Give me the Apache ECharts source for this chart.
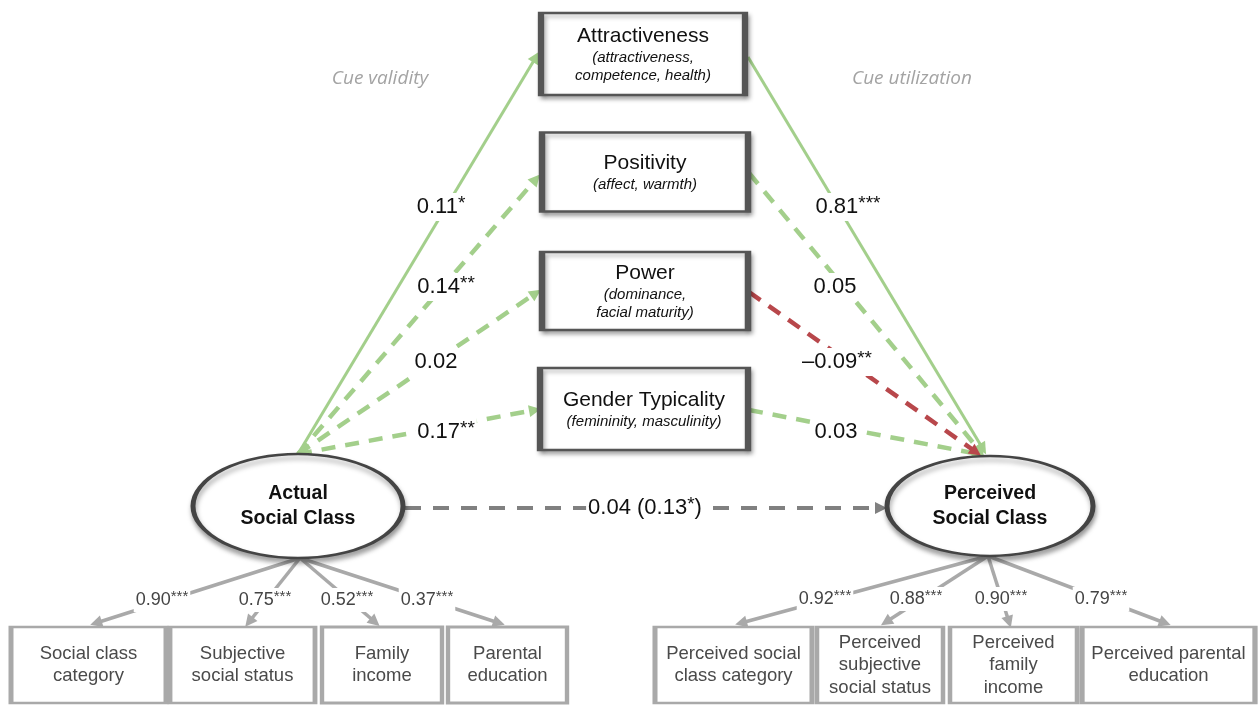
<!DOCTYPE html>
<html>
<head>
<meta charset="utf-8">
<script src="https://cdn.jsdelivr.net/npm/echarts@6/dist/echarts.min.js"></script>
<style>html,body{margin:0;padding:0;background:#fff}#c{width:1258px;height:707px}</style>
</head>
<body>
<div id="c"></div>
<script>
// ---------------- DATA ----------------
const constructNames = ['Attractiveness', 'Positivity', 'Power', 'Gender Typicality'];
const constructFacets = [['(attractiveness,', 'competence, health)'], ['(affect, warmth)'], ['(dominance,', 'facial maturity)'], ['(femininity, masculinity)']];
const latentNames = [['Actual', 'Social Class'], ['Perceived', 'Social Class']];
const actualIndicators = [['Social class', 'category'], ['Subjective', 'social status'], ['Family', 'income'], ['Parental', 'education']];
const perceivedIndicators = [['Perceived social', 'class category'], ['Perceived', 'subjective', 'social status'], ['Perceived', 'family', 'income'], ['Perceived parental', 'education']];
const cueValidity = [0.11, 0.14, 0.02, 0.17];
const cueValiditySig = ['*', '**', '', '**'];
const cueUtilization = [0.81, 0.05, -0.09, 0.03];
const cueUtilizationSig = ['***', '', '**', ''];
const directEffect = 0.04;
const totalEffect = 0.13;
const totalEffectSig = '*';
const actualLoadings = [0.90, 0.75, 0.52, 0.37];
const actualLoadingSig = ['***', '***', '***', '***'];
const perceivedLoadings = [0.92, 0.88, 0.90, 0.79];
const perceivedLoadingSig = ['***', '***', '***', '***'];
const sectionTitles = ['Cue validity', 'Cue utilization'];

// ---------------- LAYOUT (diagram space = pixel-like units) ----------------
const constructBox = [[643, 54, 204, 82], [645, 172, 206, 79], [645, 291, 206, 78], [644, 409, 208, 82]];
const latentBox = [[298, 506, 210, 104], [990, 506, 206, 100]];
const indicatorY = [627, 703];
const actualBoxX = [[11, 166], [170, 315], [322, 442], [448, 567]];
const perceivedBoxX = [[655, 812], [817, 943], [950, 1077], [1082, 1255]];
const validityStart = [298, 454];
const validityEnd = [[536, 57], [536, 179], [536, 293], [535, 410]];
const validityLabel = [[441, 207], [446, 287], [436, 362], [446, 432]];
const utilStart = [[748, 57], [749, 173], [749, 292], [749, 410]];
const utilEnd = [[983, 449], [980, 451], [976, 452], [978, 454]];
const utilLabel = [[848, 207], [835, 287], [837, 362], [836, 432]];
const pathKind = ['solid', 'dash', 'dash', 'dash'];
const directStart = [405, 508], directEnd = [881, 508], directLabel = [645, 508];
const actualArrowStart = [300, 558];
const actualArrowEnd = [[96, 623], [249, 622], [375, 622], [499, 623]];
const actualLabelPos = [[162, 600], [265, 600], [347, 600], [427, 600]];
const perceivedArrowStart = [988, 556];
const perceivedArrowEnd = [[741, 623], [886, 622], [1009, 622], [1165, 623]];
const perceivedLabelPos = [[825, 599], [916, 599], [1001, 599], [1101, 599]];
const sectionTitlePos = [[380, 79], [912, 79]];

// ---------------- BUILD ----------------
const FONT = 'Liberation Sans, Arial, Helvetica, sans-serif';
const GREEN = '#a3cf8b', RED = '#b8474b', DGRAY = '#808080', LGRAY = '#a9a9a9';
const fmt = v => (v < 0 ? '\u2013' : '') + Math.abs(v).toFixed(2);

const greenSolid = [], greenDash = [], redDash = [];
function pushPath(from, to, val, idx) {
  const item = { coords: [from, to] };
  if (val < 0) redDash.push(item);
  else if (pathKind[idx] === 'solid') greenSolid.push(item);
  else greenDash.push(item);
}
cueValidity.forEach((v, i) => pushPath(validityStart, validityEnd[i], v, i));
cueUtilization.forEach((v, i) => pushPath(utilStart[i], utilEnd[i], v, i));

const indicatorArrows = [];
actualLoadings.forEach((v, i) => indicatorArrows.push({ coords: [actualArrowStart, actualArrowEnd[i]] }));
perceivedLoadings.forEach((v, i) => indicatorArrows.push({ coords: [perceivedArrowStart, perceivedArrowEnd[i]] }));

const coefLabels = [];
cueValidity.forEach((v, i) => coefLabels.push({ value: validityLabel[i], name: '{v|' + fmt(v) + '}' + (cueValiditySig[i] ? '{s|' + cueValiditySig[i] + '}' : '') }));
cueUtilization.forEach((v, i) => coefLabels.push({ value: utilLabel[i], name: '{v|' + fmt(v) + '}' + (cueUtilizationSig[i] ? '{s|' + cueUtilizationSig[i] + '}' : '') }));
coefLabels.push({ value: directLabel, name: '{v|' + fmt(directEffect) + ' (' + fmt(totalEffect) + '}{s|' + totalEffectSig + '}{v|)}' });

const loadLabels = [];
actualLoadings.forEach((v, i) => loadLabels.push({ value: actualLabelPos[i], name: '{v|' + fmt(v) + '}{s|' + actualLoadingSig[i] + '}' }));
perceivedLoadings.forEach((v, i) => loadLabels.push({ value: perceivedLabelPos[i], name: '{v|' + fmt(v) + '}{s|' + perceivedLoadingSig[i] + '}' }));

const constructData = constructNames.map((n, i) => ({
  value: [constructBox[i][0], constructBox[i][1]],
  symbolSize: [constructBox[i][2], constructBox[i][3]],
  name: '{t|' + n + '}\n' + constructFacets[i].map(f => '{s|' + f + '}').join('\n')
}));
const latentData = latentNames.map((n, i) => ({
  value: [latentBox[i][0], latentBox[i][1]],
  symbolSize: [latentBox[i][2], latentBox[i][3]],
  name: n.join('\n')
}));
const indicatorData = [];
actualIndicators.forEach((n, i) => indicatorData.push({
  value: [(actualBoxX[i][0] + actualBoxX[i][1]) / 2, (indicatorY[0] + indicatorY[1]) / 2],
  symbolSize: [actualBoxX[i][1] - actualBoxX[i][0], indicatorY[1] - indicatorY[0]],
  name: n.join('\n')
}));
perceivedIndicators.forEach((n, i) => indicatorData.push({
  value: [(perceivedBoxX[i][0] + perceivedBoxX[i][1]) / 2, (indicatorY[0] + indicatorY[1]) / 2],
  symbolSize: [perceivedBoxX[i][1] - perceivedBoxX[i][0], indicatorY[1] - indicatorY[0]],
  name: n.join('\n')
}));
const titleData = sectionTitles.map((t, i) => ({ value: sectionTitlePos[i], name: t }));

function linesSeries(data, color, width, type, z) {
  return {
    type: 'lines', coordinateSystem: 'cartesian2d', silent: true, z: z || 2,
    symbol: ['none', 'triangle'], symbolSize: 12,
    lineStyle: { color: color, width: width, type: type, opacity: 1, cap: 'butt' },
    data: data
  };
}
const hiddenPoint = { symbol: 'rect', symbolSize: 1, itemStyle: { color: 'rgba(255,255,255,0)', opacity: 1 } };

const option = {
  backgroundColor: '#ffffff',
  animation: false,
  grid: { left: 0, right: 0, top: 0, bottom: 0 },
  xAxis: { type: 'value', min: 0, max: 1258, show: false },
  yAxis: { type: 'value', min: 0, max: 707, inverse: true, show: false },
  series: [
    linesSeries(greenSolid, GREEN, 3, 'solid'),
    linesSeries(greenDash, GREEN, 4.5, [14, 10]),
    linesSeries(redDash, RED, 4.5, [14, 10]),
    linesSeries([{ coords: [directStart, directEnd] }], DGRAY, 4, [16, 12]),
    linesSeries(indicatorArrows, LGRAY, 3.5, 'solid'),
    {
      type: 'scatter', silent: true, z: 4, symbol: 'rect', data: constructData,
      itemStyle: { color: '#fff', borderColor: '#555', borderWidth: 4, shadowBlur: 4, shadowOffsetX: 2, shadowOffsetY: 3, shadowColor: 'rgba(0,0,0,0.3)', opacity: 1 },
      label: {
        show: true, position: 'inside', formatter: '{b}', color: '#111',
        rich: {
          t: { fontFamily: FONT, fontSize: 21, lineHeight: 26, color: '#111' },
          s: { fontFamily: FONT, fontSize: 15, fontStyle: 'italic', lineHeight: 18, color: '#111' }
        }
      }
    },
    {
      type: 'scatter', silent: true, z: 4,
      symbol: 'path://M0 50A50 50 0 1 1 100 50A50 50 0 1 1 0 50Z',
      data: latentData,
      itemStyle: { color: '#fff', borderColor: '#444', borderWidth: 3.5, shadowBlur: 5, shadowOffsetX: 1, shadowOffsetY: 4, shadowColor: 'rgba(0,0,0,0.35)', opacity: 1 },
      label: { show: true, position: 'inside', formatter: '{b}', fontFamily: FONT, fontSize: 19.5, fontWeight: 'bold', lineHeight: 25, color: '#111' }
    },
    {
      type: 'scatter', silent: true, z: 4, symbol: 'rect', data: indicatorData,
      itemStyle: { color: '#fff', borderColor: LGRAY, borderWidth: 3.5, opacity: 1 },
      label: { show: true, position: 'inside', formatter: '{b}', fontFamily: FONT, fontSize: 18.5, lineHeight: 22.5, color: '#4a4a4a' }
    },
    Object.assign({
      type: 'scatter', silent: true, z: 6, data: coefLabels,
      label: {
        show: true, position: 'inside', formatter: '{b}', backgroundColor: '#fff', padding: [1, 2],
        rich: {
          v: { fontFamily: FONT, fontSize: 22, lineHeight: 26, color: '#111' },
          s: { fontFamily: FONT, fontSize: 19, lineHeight: 19, color: '#111', verticalAlign: 'top' }
        }
      }
    }, hiddenPoint),
    Object.assign({
      type: 'scatter', silent: true, z: 6, data: loadLabels,
      label: {
        show: true, position: 'inside', formatter: '{b}', backgroundColor: '#fff', padding: [1, 2],
        rich: {
          v: { fontFamily: FONT, fontSize: 18, lineHeight: 22, color: '#444' },
          s: { fontFamily: FONT, fontSize: 15, lineHeight: 15, color: '#444', verticalAlign: 'top' }
        }
      }
    }, hiddenPoint),
    Object.assign({
      type: 'scatter', silent: true, z: 6, data: titleData,
      label: { show: true, position: 'inside', formatter: '{b}', fontFamily: 'Open Sans, sans-serif', fontStyle: 'italic', fontSize: 19, color: '#a3a3a3' }
    }, hiddenPoint)
  ]
};
const chart = echarts.init(document.getElementById('c'), null, { renderer: 'canvas' });
chart.setOption(option);
</script>
</body>
</html>
